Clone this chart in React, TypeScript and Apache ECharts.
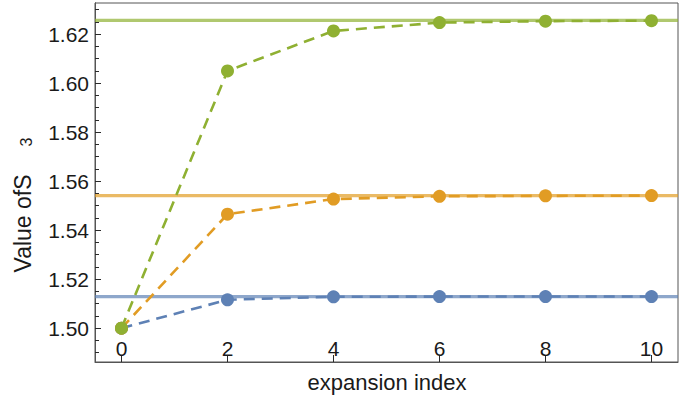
import { useEffect, useRef } from "react";
import * as echarts from "echarts";

// Expansion index (x) and the value of S3 at each order, one array per series
const expansionIndex = [0, 2, 4, 6, 8, 10];
const blueValues = [1.5, 1.5116, 1.5128, 1.5129, 1.5129, 1.5129];
const orangeValues = [1.5, 1.5465, 1.5527, 1.5538, 1.554, 1.5541];
const greenValues = [1.5, 1.605, 1.6213, 1.6247, 1.6253, 1.6255];

// Converged (limit) values drawn as horizontal reference lines
const blueLimit = 1.5129;
const orangeLimit = 1.5541;
const greenLimit = 1.6256;

const blueColor = "#5E81B5";
const orangeColor = "#E19C24";
const greenColor = "#8FB032";

// Axis ranges and tick positions
const xMin = -0.5;
const xMax = 10.5;
const yMin = 1.4862;
const yMax = 1.6327;
const xTicks = [0, 2, 4, 6, 8, 10];
const yMajorTicks = [1.5, 1.52, 1.54, 1.56, 1.58, 1.6, 1.62];
const yMinorTicks = [
  1.49, 1.495, 1.505, 1.51, 1.515, 1.525, 1.53, 1.535, 1.545, 1.55, 1.555,
  1.565, 1.57, 1.575, 1.585, 1.59, 1.595, 1.605, 1.61, 1.615, 1.625, 1.63,
];

const FONT = "'Liberation Sans', Arial, sans-serif";
const AXIS_COLOR = "#555";
const TICK_COLOR = "#2a2a2a";

function pairs(values: number[]) {
  return expansionIndex.map((x, i) => [x, values[i]]);
}

function limitLine(value: number, color: string) {
  return {
    type: "line",
    data: [
      [xMin, value],
      [xMax, value],
    ],
    symbol: "none",
    silent: true,
    lineStyle: { color, width: 3.2, opacity: 0.7, type: "solid" },
  };
}

function convergenceSeries(values: number[], color: string) {
  return {
    type: "line",
    data: pairs(values),
    symbol: "circle",
    symbolSize: 13,
    itemStyle: { color },
    lineStyle: { color, width: 2.6, type: [11, 7] },
  };
}

export default function App() {
  const ref = useRef<HTMLDivElement>(null);

  useEffect(() => {
    if (!ref.current) return;
    const chart = echarts.init(ref.current, null, { renderer: "svg" });
    chart.setOption({
      animation: false,
      backgroundColor: "#ffffff",
      grid: {
        left: 95,
        top: 3,
        right: 14,
        bottom: 39,
        show: true,
        borderColor: AXIS_COLOR,
        borderWidth: 1,
        backgroundColor: "transparent",
      },
      xAxis: {
        type: "value",
        min: xMin,
        max: xMax,
        axisLine: { show: true, onZero: false, lineStyle: { color: AXIS_COLOR, width: 1 } },
        axisTick: {
          show: true,
          inside: true,
          length: 7,
          customValues: xTicks,
          lineStyle: { color: TICK_COLOR, width: 1 },
        },
        axisLabel: {
          show: true,
          inside: true,
          margin: 3,
          customValues: xTicks,
          fontFamily: FONT,
          fontSize: 21,
          color: "#1a1a1a",
        },
        splitLine: { show: false },
      },
      yAxis: [
        {
          type: "value",
          min: yMin,
          max: yMax,
          position: "left",
          axisLine: { show: true, onZero: false, lineStyle: { color: AXIS_COLOR, width: 1 } },
          axisTick: {
            show: true,
            inside: true,
            length: 6,
            customValues: yMajorTicks,
            lineStyle: { color: TICK_COLOR, width: 1 },
          },
          axisLabel: {
            show: true,
            margin: 6,
            customValues: yMajorTicks,
            formatter: (v: number) => v.toFixed(2),
            fontFamily: FONT,
            fontSize: 21,
            color: "#1a1a1a",
          },
          splitLine: { show: false },
        },
        {
          // minor ticks only, sharing the left edge with the main axis
          type: "value",
          min: yMin,
          max: yMax,
          position: "left",
          offset: 0,
          axisLine: { show: true, onZero: false, lineStyle: { color: AXIS_COLOR, width: 1 } },
          axisTick: {
            show: true,
            inside: true,
            length: 4,
            customValues: yMinorTicks,
            lineStyle: { color: TICK_COLOR, width: 1 },
          },
          axisLabel: { show: false },
          splitLine: { show: false },
        },
      ],
      series: [
        limitLine(blueLimit, blueColor),
        limitLine(orangeLimit, orangeColor),
        limitLine(greenLimit, greenColor),
        convergenceSeries(blueValues, blueColor),
        convergenceSeries(orangeValues, orangeColor),
        convergenceSeries(greenValues, greenColor),
      ],
      graphic: [
        {
          type: "text",
          x: 387,
          y: 382,
          style: {
            text: "expansion index",
            fontFamily: FONT,
            fontSize: 22,
            fill: "#1a1a1a",
            textAlign: "center",
            textVerticalAlign: "middle",
          },
        },
        {
          type: "text",
          x: 21,
          y: 205,
          rotation: Math.PI / 2,
          style: {
            text: "{a|Value of}{b|S}{c|3}",
            textAlign: "center",
            textVerticalAlign: "middle",
            rich: {
              a: { fontFamily: FONT, fontSize: 23, fill: "#1a1a1a", lineHeight: 26, verticalAlign: "bottom" },
              b: { fontFamily: FONT, fontSize: 23, fill: "#1a1a1a", lineHeight: 26, verticalAlign: "bottom" },
              c: {
                fontFamily: FONT,
                fontSize: 16,
                fill: "#1a1a1a",
                lineHeight: 19,
                verticalAlign: "bottom",
                padding: [0, 0, 0, 28],
              },
            },
          },
        },
      ],
    });
    return () => chart.dispose();
  }, []);

  return (
    <div
      ref={ref}
      style={{ position: "fixed", left: 0, top: 0, width: 692, height: 401 }}
    />
  );
}
